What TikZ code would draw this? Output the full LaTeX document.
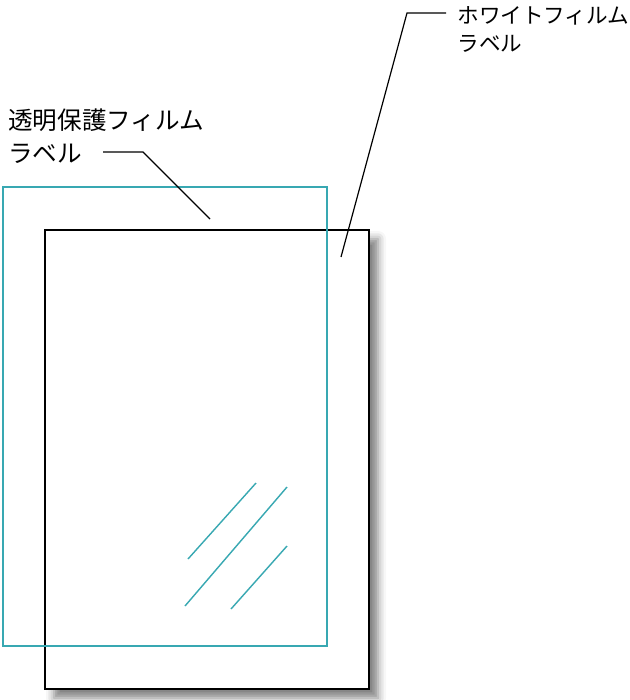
\documentclass[tikz,border=0pt]{standalone}
\usepackage{fontspec}
\newfontfamily\jpfont{Noto Sans CJK JP}
\usetikzlibrary{shadows.blur}
\definecolor{filmcyan}{RGB}{56,168,178}

\begin{document}
\begin{tikzpicture}[x=0.5pt,y=-0.5pt]
        \useasboundingbox (0,0) rectangle (630,700);
        \begin{scope}[every node/.style={inner sep=0, anchor=west, align=left}]
                % white film with its shadow
                \draw[line width=0.75pt, fill=white, blur shadow={shadow xshift=4.5pt, shadow yshift=-4.5pt, shadow blur radius=4pt, shadow opacity=50}] (45,230) rectangle (369,689);
                % clear protective film
                \draw[filmcyan, line width=0.6pt] (3,187) rectangle (327,646);
                \coordinate (G1a) at (188,559); \coordinate (G1b) at (256,483);
                \coordinate (G2a) at (185,606); \coordinate (G2b) at (287,487);
                \coordinate (G3a) at (231,609); \coordinate (G3b) at (287,546);
                \draw[filmcyan, line width=0.7pt] (G1a) -- (G1b);
                \draw[filmcyan, line width=0.7pt] (G2a) -- (G2b);
                \draw[filmcyan, line width=0.7pt] (G3a) -- (G3b);

                \node[font=\jpfont\fontsize{12.3}{16.5}\selectfont] (clearlabel) at (8,136) {透明保護フィルム\\ラベル};
                \node[font=\jpfont\fontsize{10.8}{14}\selectfont] (whitelabel) at (457,29) {ホワイトフィルム\\ラベル};

                \coordinate (clearstart) at (103,152);
                \coordinate (clearbend) at (143,152);
                \coordinate (clearend) at (210,219);
                \coordinate (whitestart) at (446,13);
                \coordinate (whitebend) at (407,13);
                \coordinate (whiteend) at (341,257);
                \draw[line width=0.6pt] (clearstart) -- (clearbend) -- (clearend);
                \draw[line width=0.6pt] (whitestart) -- (whitebend) -- (whiteend);
        \end{scope}
\end{tikzpicture}
\end{document}
